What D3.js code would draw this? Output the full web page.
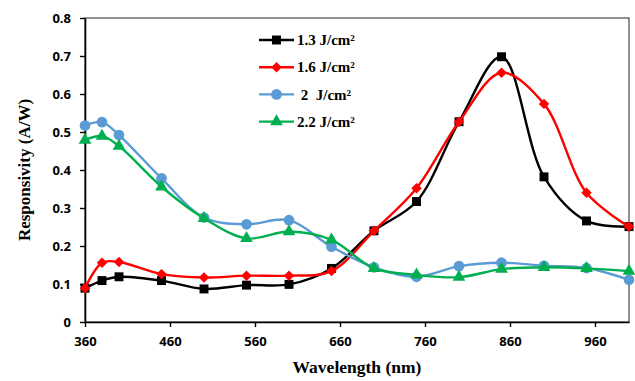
<!DOCTYPE html>
<html>
<head>
<meta charset="utf-8">
<script src="https://cdn.jsdelivr.net/npm/d3@7"></script>
<style>
  body { margin: 0; background: #fff; }
  svg { display: block; }
</style>
</head>
<body>
<svg id="chart" width="635" height="381"></svg>
<script>
// wavelengths (nm)
const wavelength = [360, 380, 400, 450, 500, 550, 600, 650, 700, 750, 800, 850, 900, 950, 1000];

// responsivity (A/W) per laser fluence
const r13 = [0.089, 0.109, 0.119, 0.109, 0.087, 0.097, 0.099, 0.141, 0.240, 0.317, 0.527, 0.698, 0.382, 0.266, 0.251];
const r16 = [0.089, 0.156, 0.158, 0.126, 0.117, 0.122, 0.122, 0.134, 0.240, 0.352, 0.527, 0.656, 0.574, 0.340, 0.251];
const r20 = [0.517, 0.526, 0.492, 0.378, 0.275, 0.257, 0.268, 0.198, 0.144, 0.119, 0.147, 0.156, 0.148, 0.142, 0.111];
const r22 = [0.479, 0.489, 0.463, 0.356, 0.273, 0.220, 0.238, 0.216, 0.141, 0.124, 0.118, 0.139, 0.144, 0.141, 0.134];

const legendLabels = ["1.3 J/cm\u00b2", "1.6 J/cm\u00b2", " 2  J/cm\u00b2", "2.2 J/cm\u00b2"];
const xTicks = [360, 460, 560, 660, 760, 860, 960];
const yTicks = [0, 0.1, 0.2, 0.3, 0.4, 0.5, 0.6, 0.7, 0.8];

const series = [
  { name: legendLabels[0], values: r13, color: "#000000", marker: "square" },
  { name: legendLabels[1], values: r16, color: "#ff0000", marker: "diamond" },
  { name: legendLabels[2], values: r20, color: "#5b9bd5", marker: "circle" },
  { name: legendLabels[3], values: r22, color: "#00b050", marker: "triangle" }
];

const svg = d3.select("#chart");
const plotL = 85, plotR = 629, plotT = 18, plotB = 322;

const x = d3.scaleLinear().domain([360, 1000]).range([plotL, plotR]);
const y = d3.scaleLinear().domain([0, 0.8]).range([plotB, plotT]);

// plot border (top / right)
svg.append("rect")
  .attr("x", plotL).attr("y", plotT)
  .attr("width", plotR - plotL).attr("height", plotB - plotT)
  .attr("fill", "none").attr("stroke", "#222").attr("stroke-width", 1);

const xAxis = svg.append("g")
  .attr("transform", `translate(0,${plotB})`)
  .call(d3.axisBottom(x).tickValues(xTicks).tickSize(5).tickSizeOuter(0).tickPadding(10));
const yAxis = svg.append("g")
  .attr("transform", `translate(${plotL},0)`)
  .call(d3.axisLeft(y).tickValues(yTicks).tickSize(5).tickSizeOuter(0).tickPadding(9)
    .tickFormat(d => d === 0 ? "0" : d3.format(".1f")(d)));

[xAxis, yAxis].forEach(g => {
  g.select(".domain").attr("stroke", "#000").attr("stroke-width", 1.6);
  g.selectAll(".tick line").attr("stroke", "#000").attr("stroke-width", 1.4);
  g.selectAll(".tick text")
    .attr("fill", "#000")
    .style("font-family", "'Open Sans', sans-serif")
    .style("font-weight", "bold")
    .style("font-size", "13px");
});

const line = d3.line()
  .x((d, i) => x(wavelength[i]))
  .y(d => y(d))
  .curve(d3.curveCatmullRom.alpha(0.5));

const symbols = {
  square: d3.symbol().type(d3.symbolSquare).size(80),
  diamond: d3.symbol().type(d3.symbolDiamond2).size(70),
  circle: d3.symbol().type(d3.symbolCircle).size(90),
  triangle: d3.symbol().type(d3.symbolTriangle).size(70)
};

series.forEach(s => {
  svg.append("path")
    .datum(s.values)
    .attr("d", line)
    .attr("fill", "none")
    .attr("stroke", s.color)
    .attr("stroke-width", 2.4);

  svg.append("g").selectAll("path")
    .data(s.values)
    .join("path")
    .attr("transform", (d, i) => `translate(${x(wavelength[i])},${y(d)})`)
    .attr("d", symbols[s.marker]())
    .attr("fill", s.color);
});

// legend
const legend = svg.append("g").attr("transform", "translate(259,40)");
series.forEach((s, i) => {
  const row = legend.append("g").attr("transform", `translate(0,${i * 27.2})`);
  row.append("line")
    .attr("x1", 0).attr("x2", 35)
    .attr("stroke", s.color).attr("stroke-width", 2.4);
  row.append("path")
    .attr("transform", "translate(17.5,0)")
    .attr("d", symbols[s.marker]())
    .attr("fill", s.color);
  row.append("text")
    .attr("x", 38).attr("dy", "0.35em")
    .attr("xml:space", "preserve")
    .style("white-space", "pre")
    .style("font-family", "'Liberation Serif', 'Times New Roman', serif")
    .style("font-weight", "bold")
    .style("font-size", "15px")
    .text(s.name);
});

// axis titles
svg.append("text")
  .attr("x", 357).attr("y", 373)
  .attr("text-anchor", "middle")
  .style("font-family", "'Liberation Serif', 'Times New Roman', serif")
  .style("font-weight", "bold")
  .style("font-size", "17.5px")
  .text("Wavelength (nm)");

svg.append("text")
  .attr("transform", `translate(30,${(plotT + plotB) / 2}) rotate(-90)`)
  .attr("text-anchor", "middle")
  .style("font-family", "'Liberation Serif', 'Times New Roman', serif")
  .style("font-weight", "bold")
  .style("font-size", "17px")
  .text("Responsivity (A/W)");
</script>
</body>
</html>
